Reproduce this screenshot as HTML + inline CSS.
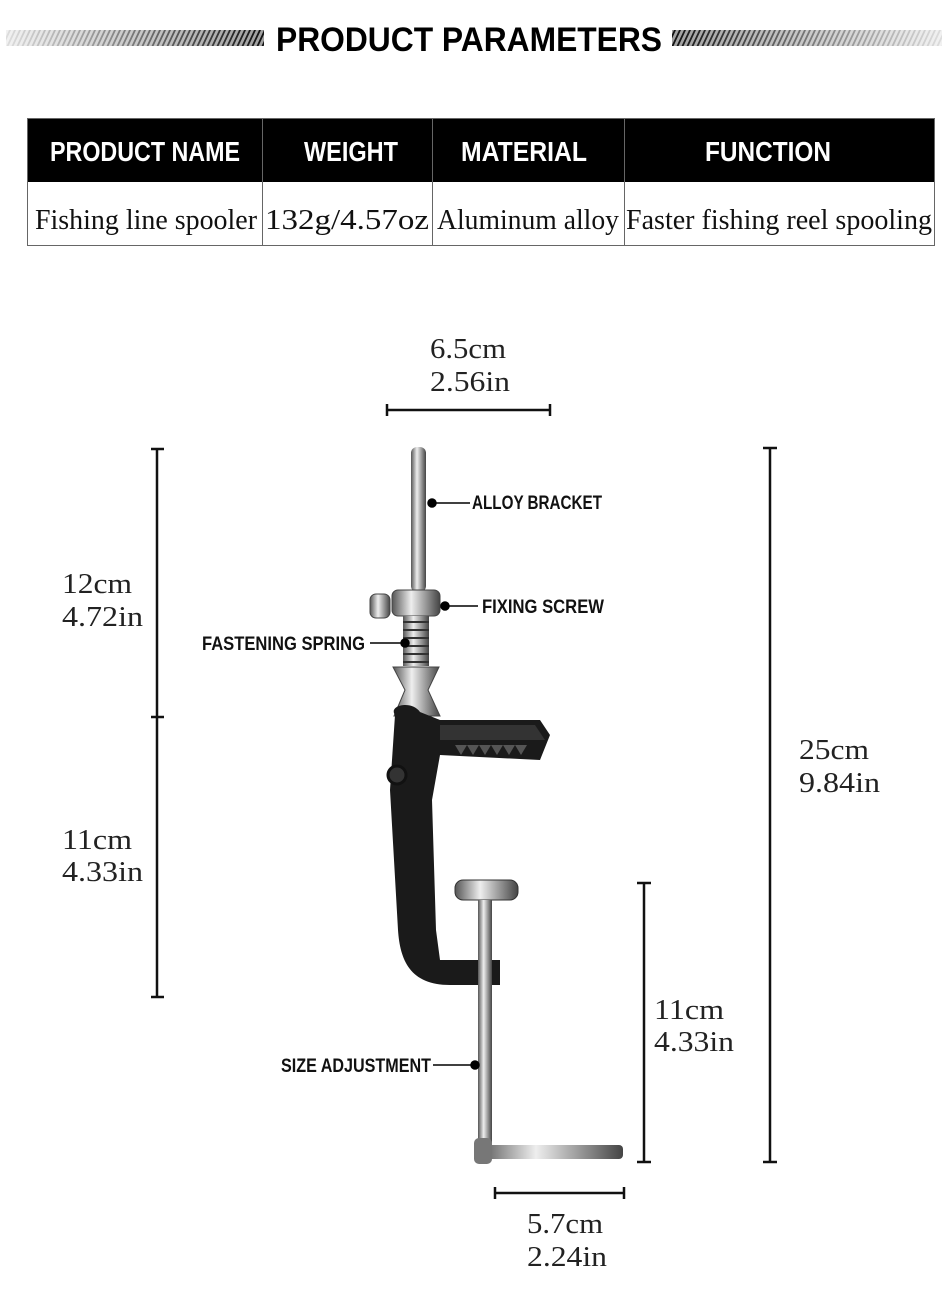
<!DOCTYPE html>
<html><head><meta charset="utf-8"><style>
body{margin:0;background:#fff;}
svg{display:block}
.h{font-family:"Liberation Sans",sans-serif;font-weight:bold;}
.s{font-family:"Liberation Serif",serif;}
</style></head><body>
<svg width="950" height="1294" viewBox="0 0 950 1294" xmlns="http://www.w3.org/2000/svg">
<defs>
<linearGradient id="gl" x1="0" x2="1"><stop offset="0" stop-color="#ddd"/><stop offset="1" stop-color="#111"/></linearGradient>
<linearGradient id="gr" x1="0" x2="1"><stop offset="0" stop-color="#111"/><stop offset="1" stop-color="#ddd"/></linearGradient>
<pattern id="st" width="5" height="20" patternUnits="userSpaceOnUse" patternTransform="skewX(-25)"><rect width="3" height="20" fill="#fff"/></pattern>
<linearGradient id="met" x1="0" x2="1"><stop offset="0" stop-color="#555"/><stop offset="0.4" stop-color="#eee"/><stop offset="1" stop-color="#444"/></linearGradient>
</defs>
<rect x="6" y="30" width="258" height="16" fill="url(#gl)"/><rect x="6" y="30" width="258" height="16" fill="url(#st)" opacity="0.6"/>
<rect x="672" y="30" width="270" height="16" fill="url(#gr)"/><rect x="672" y="30" width="270" height="16" fill="url(#st)" opacity="0.6"/>
<text x="469" y="51" class="h" font-size="34" text-anchor="middle" textLength="386" lengthAdjust="spacingAndGlyphs">PRODUCT PARAMETERS</text>

<rect x="27" y="118" width="908" height="64" fill="#000"/>
<rect x="27.5" y="118.5" width="907" height="127" fill="none" stroke="#666"/>
<g stroke="#666"><line x1="262.5" y1="118" x2="262.5" y2="246"/><line x1="432.5" y1="118" x2="432.5" y2="246"/><line x1="624.5" y1="118" x2="624.5" y2="246"/></g>
<g fill="#fff" class="h" font-size="28" text-anchor="middle">
<text x="145" y="161" textLength="190" lengthAdjust="spacingAndGlyphs">PRODUCT NAME</text>
<text x="351" y="161" textLength="94" lengthAdjust="spacingAndGlyphs">WEIGHT</text>
<text x="524" y="161" textLength="126" lengthAdjust="spacingAndGlyphs">MATERIAL</text>
<text x="768" y="161" textLength="126" lengthAdjust="spacingAndGlyphs">FUNCTION</text></g>
<g class="s" font-size="29" text-anchor="middle" fill="#111">
<text x="146" y="229" textLength="222" lengthAdjust="spacingAndGlyphs">Fishing line spooler</text>
<text x="347" y="229" textLength="164" lengthAdjust="spacingAndGlyphs">132g/4.57oz</text>
<text x="528" y="229" textLength="182" lengthAdjust="spacingAndGlyphs">Aluminum alloy</text>
<text x="779" y="229" textLength="306" lengthAdjust="spacingAndGlyphs">Faster fishing reel spooling</text></g>

<g stroke="#111" stroke-width="2.5" fill="none">
<path d="M387 410H550M387 404V416M550 404V416"/>
<path d="M157 449V997M151 449H164M151 717H164M151 997H164"/>
<path d="M770 448V1162M763 448H777M763 1162H777"/>
<path d="M644 883V1162M637 883H651M637 1162H651"/>
<path d="M495 1193H624M495 1187V1199M624 1187V1199"/>
</g>
<g class="s" font-size="28" fill="#222">
<text x="430" y="358" textLength="76" lengthAdjust="spacingAndGlyphs">6.5cm</text><text x="430" y="391" textLength="80" lengthAdjust="spacingAndGlyphs">2.56in</text>
<text x="62" y="593" textLength="70" lengthAdjust="spacingAndGlyphs">12cm</text><text x="62" y="626" textLength="81" lengthAdjust="spacingAndGlyphs">4.72in</text>
<text x="62" y="849" textLength="70" lengthAdjust="spacingAndGlyphs">11cm</text><text x="62" y="881" textLength="81" lengthAdjust="spacingAndGlyphs">4.33in</text>
<text x="799" y="759" textLength="70" lengthAdjust="spacingAndGlyphs">25cm</text><text x="799" y="792" textLength="81" lengthAdjust="spacingAndGlyphs">9.84in</text>
<text x="654" y="1019" textLength="70" lengthAdjust="spacingAndGlyphs">11cm</text><text x="654" y="1051" textLength="80" lengthAdjust="spacingAndGlyphs">4.33in</text>
<text x="527" y="1233" textLength="76" lengthAdjust="spacingAndGlyphs">5.7cm</text><text x="527" y="1266" textLength="80" lengthAdjust="spacingAndGlyphs">2.24in</text>
</g>

<!-- clamp -->
<rect x="411" y="447" width="15" height="145" rx="6" fill="url(#met)"/>
<rect x="370" y="594" width="20" height="24" rx="6" fill="url(#met)" stroke="#444"/>
<rect x="392" y="590" width="48" height="26" rx="6" fill="url(#met)" stroke="#444"/>
<rect x="403" y="616" width="26" height="50" fill="url(#met)"/>
<g stroke="#333" stroke-width="2"><path d="M403 622H429M403 630H429M403 638H429M403 646H429M403 654H429M403 662H429"/></g>
<path d="M393 667H439L428 690L440 716H394L405 690Z" fill="url(#met)" stroke="#444"/>
<path d="M395 715C388 705 412 700 420 712L440 720H540L550 735L540 760L440 755L432 800L436 930L440 960H500V985H450C410 985 400 960 398 930L390 790Z" fill="#1a1a1a"/>
<path d="M440 725H535L545 740L440 740Z" fill="#333"/>
<g fill="#555"><path d="M455 745l6 10 6-10 6 10 6-10 6 10 6-10 6 10 6-10 6 10 6-10 6 10 6-10z"/></g>
<circle cx="397" cy="775" r="9" fill="#333" stroke="#111" stroke-width="3"/>
<rect x="455" y="880" width="63" height="20" rx="8" fill="url(#met)" stroke="#333"/>
<rect x="478" y="900" width="14" height="255" fill="url(#met)"/>
<rect x="478" y="1145" width="145" height="14" rx="4" fill="url(#met)"/>
<rect x="474" y="1138" width="18" height="26" rx="5" fill="#777"/>

<g fill="#000" stroke="#000" stroke-width="1.5">
<circle cx="432" cy="503" r="4"/><line x1="432" y1="503" x2="470" y2="503"/>
<circle cx="445" cy="606" r="4"/><line x1="445" y1="606" x2="478" y2="606"/>
<circle cx="405" cy="643" r="4"/><line x1="370" y1="643" x2="405" y2="643"/>
<circle cx="475" cy="1065" r="4"/><line x1="433" y1="1065" x2="475" y2="1065"/>
</g>
<g class="h" font-size="19" fill="#111">
<text x="472" y="509" textLength="130" lengthAdjust="spacingAndGlyphs">ALLOY BRACKET</text>
<text x="482" y="613" textLength="122" lengthAdjust="spacingAndGlyphs">FIXING SCREW</text>
<text x="202" y="650" textLength="163" lengthAdjust="spacingAndGlyphs">FASTENING SPRING</text>
<text x="281" y="1072" textLength="150" lengthAdjust="spacingAndGlyphs">SIZE ADJUSTMENT</text>
</g>
</svg>
</body></html>
